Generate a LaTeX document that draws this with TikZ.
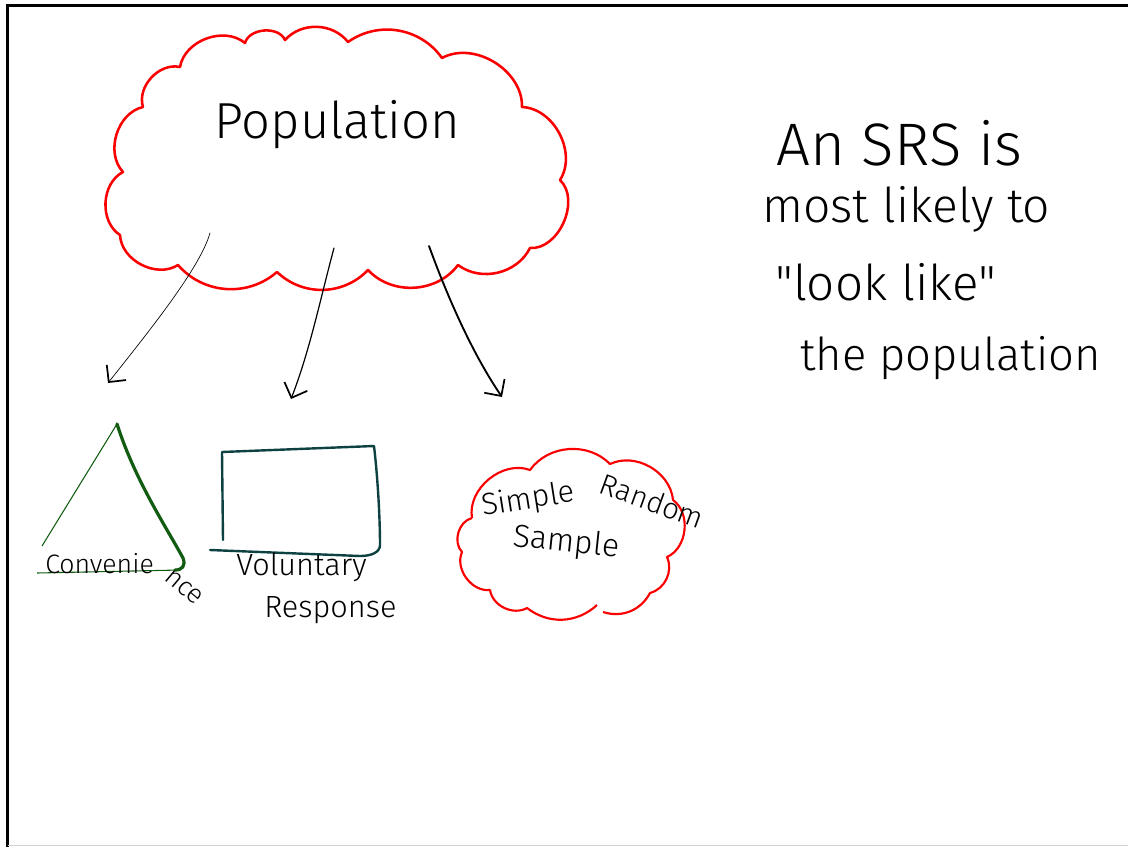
\documentclass[tikz,border=0pt]{standalone}
\usepackage{fontspec}
\newfontfamily\handfont{Fira Sans Light}
\usetikzlibrary{arrows.meta}
\definecolor{cloudred}{RGB}{250,0,0}
\definecolor{trigreen}{RGB}{18,92,18}
\definecolor{boxteal}{RGB}{14,66,66}

\begin{document}
\begin{tikzpicture}[x=0.75pt,y=0.75pt,yscale=-1,
  hand/.style={font=\handfont, inner sep=0pt, anchor=base west},
  puff/.style={color=cloudred, line width=1.9pt, line join=round},
  barb/.style={-{Straight Barb[angle=90:13pt, line width=1.3pt]}, line cap=round}]

\useasboundingbox (0,0) rectangle (1128,847);
% frame
\draw [line width=2.2pt] (7.5,847) -- (7.5,5.5) -- (1128,5.5);
\draw [color=black!18, line width=1pt] (7.5,845.5) -- (1128,845.5);

% population cloud
\draw [puff] (180,67) to[bend right=60] (245,43) to[bend right=70] (285,40)
  to[bend right=50] (348,42) to[bend right=45] (442,58) to[bend right=60] (522,107)
  to[bend right=60] (560,180) to[bend right=70] (530,248) to[bend right=50] (458,265)
  to[bend right=50] (368,270) to[bend right=45] (277,272) to[bend right=45] (178,265)
  to[bend right=60] (120,235) to[bend right=60] (123,172) to[bend right=60] (143,107)
  to[bend right=60] (180,67) -- cycle;
\node [hand, font=\handfont\fontsize{38}{38}\selectfont] (pop) at (214,138) {Population};

% arrows out of the cloud
\coordinate (a1) at (210,233);
\coordinate (a2) at (334,248);
\coordinate (a3) at (429,246);
\coordinate (e1) at (108,383);
\coordinate (e2) at (291,399);
\coordinate (e3) at (502,397);
\draw [barb, line width=0.5pt] (a1) .. controls (200,268) and (150,330) .. (e1);
\draw [barb, line width=0.9pt] (a2) .. controls (320,300) and (310,350) .. (e2);
\draw [barb, line width=1.4pt] (a3) .. controls (445,290) and (470,350) .. (e3);

% convenience triangle
\draw [color=trigreen, line width=0.8pt] (42,546) -- (117,424);
\draw [color=trigreen, line width=2.4pt, line cap=round] (117,424) .. controls (135,480) and (165,525) .. (183,558) .. controls (186,566) and (182,570) .. (175,570);
\draw [color=trigreen, line width=0.8pt] (37,573) -- (180,570);
\node [hand, font=\handfont\fontsize{20}{20}\selectfont] (conv) at (45,573) {Convenie};
\node [hand, font=\handfont\fontsize{20}{20}\selectfont, rotate=-40] (convend) at (163,579) {nce};

% voluntary response box
\draw [color=boxteal, line width=1.8pt, line cap=round, line join=round] (223,540) -- (222,452) -- (374,446) .. controls (378,480) and (380,520) .. (380,545) .. controls (380,552) and (372,556) .. (360,556) -- (210,550);
\node [hand, font=\handfont\fontsize{23}{23}\selectfont] (vol) at (236,575) {Voluntary};
\node [hand, font=\handfont\fontsize{23}{23}\selectfont] (resp) at (264,617) {Response};

% simple random sample cloud
\draw [puff, line width=1.6pt] (472,518) to[bend right=60] (530,470) to[bend right=50] (610,464)
  to[bend right=55] (673,500) to[bend right=60] (667,557) to[bend right=50] (650,593)
  to[bend right=40] (603,612) (597,605) to[bend right=40] (527,608) to[bend right=55] (490,590)
  to[bend right=60] (462,552) to[bend right=60] (472,518);
\node [hand, font=\handfont\fontsize{23}{23}\selectfont, rotate=9] (srs1) at (483,516) {Simple};
\node [hand, font=\handfont\fontsize{22}{22}\selectfont, rotate=-20] (srs2) at (597,492) {Random};
\node [hand, font=\handfont\fontsize{24}{24}\selectfont, rotate=-6] (srs3) at (512,546) {Sample};

% the remark on the right
\node [hand, font=\handfont\fontsize{45}{45}\selectfont] (line1) at (776,165) {An SRS is};
\node [hand, font=\handfont\fontsize{36}{36}\selectfont] (line2) at (762,222) {most likely to};
\node [hand, font=\handfont\fontsize{37}{37}\selectfont] (line3) at (775,300) {"look like"};
\node [hand, font=\handfont\fontsize{34}{34}\selectfont] (line4) at (800,370) {the population};

\end{tikzpicture}
\end{document}
